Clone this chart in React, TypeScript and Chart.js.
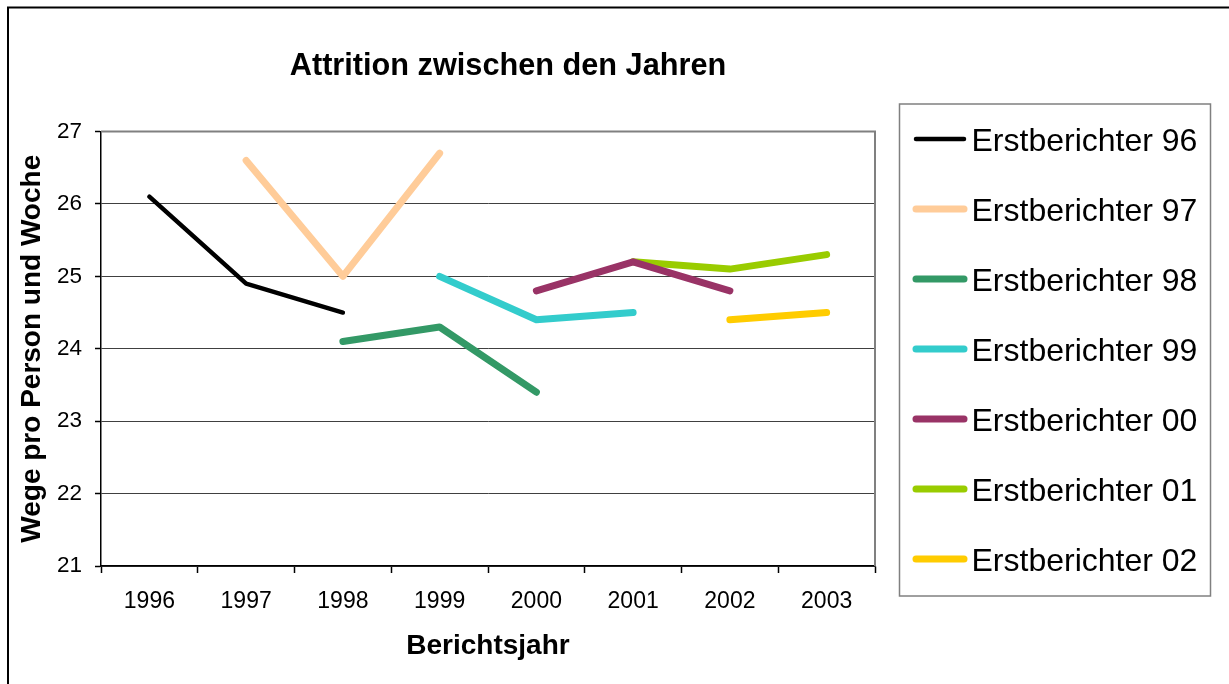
import React, { useEffect, useRef } from "react";
import { Chart, registerables } from "chart.js";

Chart.register(...registerables);

const FONT = "'Liberation Sans', Arial, Helvetica, sans-serif";

const chartTitle = "Attrition zwischen den Jahren";
const xAxisTitle = "Berichtsjahr";
const yAxisTitle = "Wege pro Person und Woche";

const years = ["1996", "1997", "1998", "1999", "2000", "2001", "2002", "2003"];

const seriesNames = [
  "Erstberichter 96",
  "Erstberichter 97",
  "Erstberichter 98",
  "Erstberichter 99",
  "Erstberichter 00",
  "Erstberichter 01",
  "Erstberichter 02",
];

const e96 = [26.1, 24.9, 24.5, null, null, null, null, null];
const e97 = [null, 26.6, 25.0, 26.7, null, null, null, null];
const e98 = [null, null, 24.1, 24.3, 23.4, null, null, null];
const e99 = [null, null, null, 25.0, 24.4, 24.5, null, null];
const e00 = [null, null, null, null, 24.8, 25.2, 24.8, null];
const e01 = [null, null, null, null, null, 25.2, 25.1, 25.3];
const e02 = [null, null, null, null, null, null, 24.4, 24.5];

const seriesValues = [e96, e97, e98, e99, e00, e01, e02];

const seriesColors = ["#000000", "#FFCC99", "#339966", "#33CCCC", "#993366", "#99CC00", "#FFCC00"];
const seriesWidths = [4.5, 7, 7, 7, 7, 7, 7];

const yMin = 21;
const yMax = 27;

const decorPlugin = {
  id: "decor",
  beforeDraw(chart: any) {
    const ctx = chart.ctx;
    ctx.save();
    ctx.fillStyle = "#ffffff";
    ctx.fillRect(0, 0, chart.width, chart.height);
    ctx.restore();
  },
  afterDraw(chart: any) {
    const ctx = chart.ctx;
    const a = chart.chartArea;
    ctx.save();
    // plot area border (top & right)
    ctx.strokeStyle = "#808080";
    ctx.lineWidth = 2;
    ctx.beginPath();
    ctx.moveTo(a.left, a.top);
    ctx.lineTo(a.right, a.top);
    ctx.lineTo(a.right, a.bottom);
    ctx.stroke();

    // outer chart frame
    ctx.strokeStyle = "#000000";
    ctx.lineWidth = 2;
    ctx.strokeRect(8, 7.5, 2000, 2000);

    // title
    ctx.fillStyle = "#000000";
    ctx.font = `bold 30.7px ${FONT}`;
    ctx.textAlign = "center";
    ctx.textBaseline = "alphabetic";
    ctx.fillText(chartTitle, 508, 75);

    // legend box
    ctx.strokeStyle = "#808080";
    ctx.lineWidth = 1.5;
    ctx.strokeRect(899.5, 104, 311, 492);

    const datasets = chart.data.datasets;
    ctx.font = `32px ${FONT}`;
    ctx.textAlign = "left";
    datasets.forEach((ds: any, i: number) => {
      const y = 139 + 70 * i;
      ctx.strokeStyle = ds.borderColor;
      ctx.lineWidth = ds.borderWidth;
      ctx.lineCap = "round";
      ctx.beginPath();
      ctx.moveTo(916, y);
      ctx.lineTo(964, y);
      ctx.stroke();
      ctx.fillStyle = "#000000";
      ctx.fillText(ds.label, 971.5, y + 12);
    });
    ctx.restore();
  },
};

export default function App() {
  const canvasRef = useRef<HTMLCanvasElement | null>(null);

  useEffect(() => {
    if (!canvasRef.current) return;
    Chart.defaults.font.family = FONT;
    Chart.defaults.color = "#000000";

    const chart = new Chart(canvasRef.current, {
      type: "line",
      data: {
        labels: years,
        datasets: seriesValues.map((vals, i) => ({
          label: seriesNames[i],
          data: vals,
          borderColor: seriesColors[i],
          backgroundColor: seriesColors[i],
          borderWidth: seriesWidths[i],
          borderCapStyle: "round",
          borderJoinStyle: "round",
          pointRadius: 0,
          pointHoverRadius: 0,
          tension: 0,
          spanGaps: false,
          fill: false,
        })),
      },
      options: {
        animation: false,
        responsive: false,
        events: [],
        layout: {
          padding: { top: 131.5, right: 354, bottom: 0, left: 0 },
        },
        plugins: {
          legend: { display: false },
          title: { display: false },
          tooltip: { enabled: false },
        },
        scales: {
          x: {
            type: "category",
            offset: true,
            afterFit(scale: any) {
              scale.height = 118;
            },
            grid: {
              offset: true,
              drawOnChartArea: false,
              drawTicks: true,
              tickLength: 7,
              tickColor: "#000000",
              tickWidth: 1.5,
            },
            border: { display: true, color: "#000000", width: 1.5 },
            ticks: {
              font: { size: 23 },
              color: "#000000",
              padding: 15,
              maxRotation: 0,
              autoSkip: false,
            },
            title: {
              display: true,
              text: xAxisTitle,
              font: { size: 28, weight: "bold" },
              color: "#000000",
              padding: { top: 0, bottom: 21 },
            },
          },
          y: {
            type: "linear",
            min: yMin,
            max: yMax,
            afterFit(scale: any) {
              scale.width = 101;
            },
            grid: {
              color: (ctx: any) => (ctx.tick && ctx.tick.value === yMax ? "rgba(0,0,0,0)" : "#404040"),
              lineWidth: 1,
              drawTicks: true,
              tickLength: 6,
              tickColor: "#000000",
              tickWidth: 1.5,
            },
            border: { display: true, color: "#000000", width: 1.5 },
            ticks: {
              stepSize: 1,
              font: { size: 22.5 },
              color: "#000000",
              padding: 13,
            },
            title: {
              display: true,
              text: yAxisTitle,
              font: { size: 28, weight: "bold" },
              color: "#000000",
              padding: { top: 15, bottom: 0 },
            },
          },
        },
      },
      plugins: [decorPlugin],
    } as any);

    return () => {
      chart.destroy();
    };
  }, []);

  return (
    <div style={{ position: "absolute", left: 0, top: 0, width: 1229, height: 684, overflow: "hidden" }}>
      <canvas ref={canvasRef} width={1229} height={684} style={{ display: "block" }} />
    </div>
  );
}
